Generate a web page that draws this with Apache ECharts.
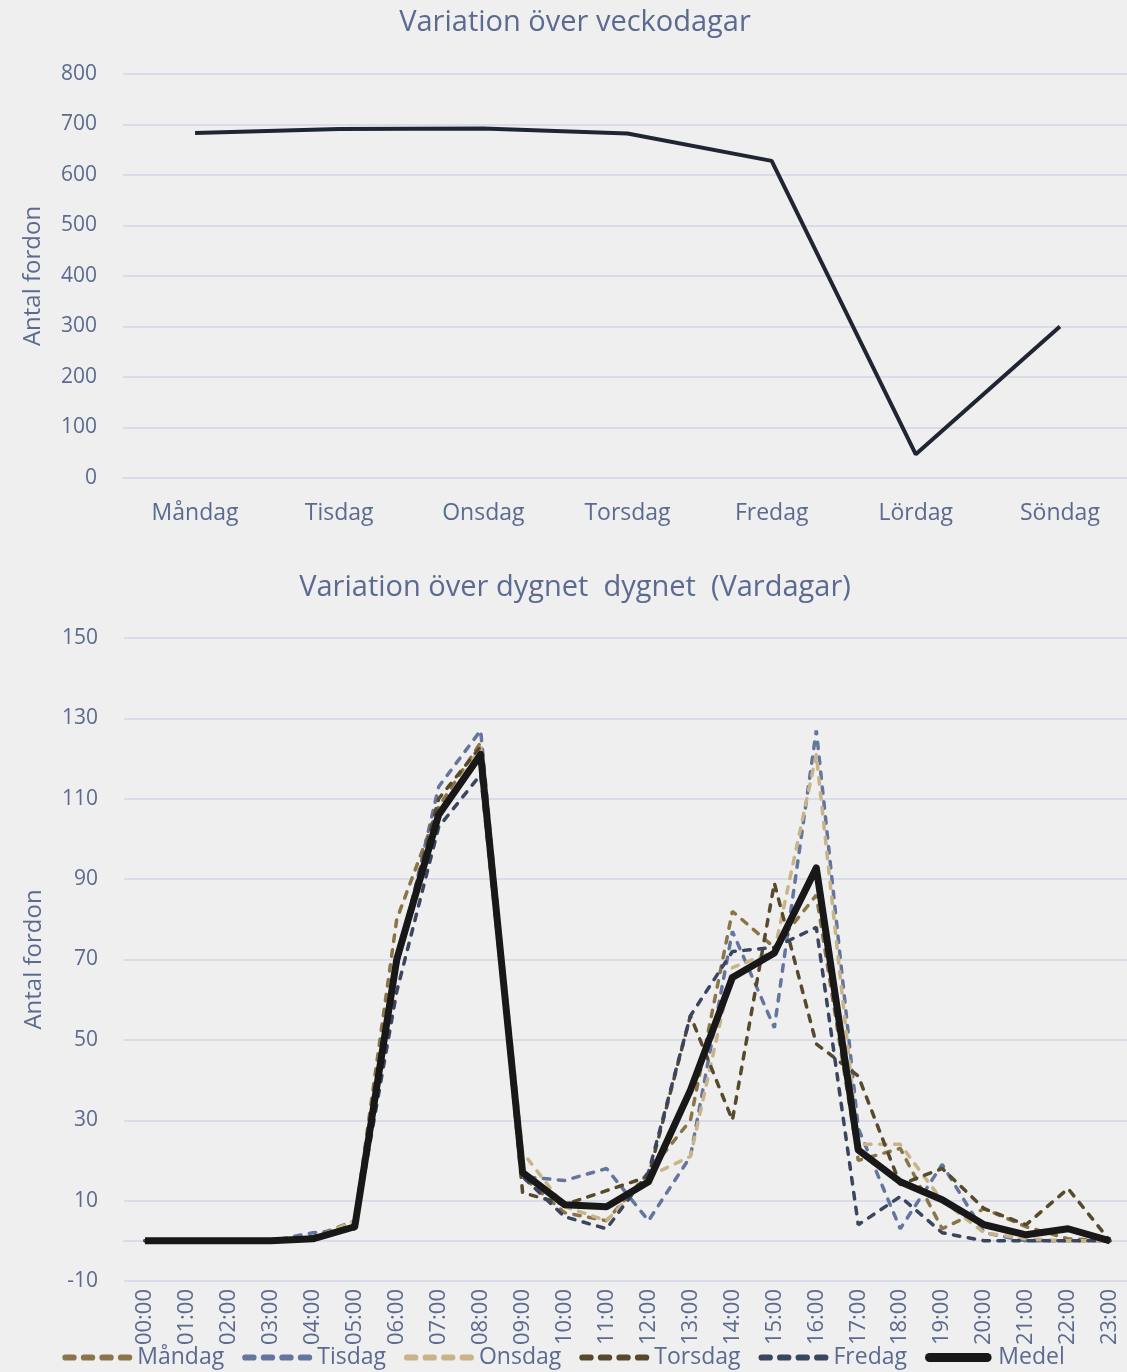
<!DOCTYPE html>
<html>
<head>
<meta charset="utf-8">
<script src="https://cdn.jsdelivr.net/npm/echarts@6/dist/echarts.min.js"></script>
<style>
html,body{margin:0;padding:0;background:#efefef;}
#c{width:1127px;height:1372px;}
</style>
</head>
<body>
<div id="c"></div>
<script>
// ---- Data: weekdays ----
const weekdays = ['Måndag','Tisdag','Onsdag','Torsdag','Fredag','Lördag','Söndag'];
const weekValues = [683, 691, 692, 682, 628, 47, 300];

// ---- Data: hours ----
const hours = ['00:00','01:00','02:00','03:00','04:00','05:00','06:00','07:00','08:00','09:00','10:00','11:00',
               '12:00','13:00','14:00','15:00','16:00','17:00','18:00','19:00','20:00','21:00','22:00','23:00'];
const mandag  = [0,0,0,0,1,5,80,108,124,16,7,5,17,30,82,73,86,20,23,3,8,3.5,0.5,0];
const tisdag  = [0,0,0,0,2,3,68,113,127,16,15,18,5,21,77,53,127,28,3,19,2,0,0,0];
const onsdag  = [0,0,0,0,0.5,5,70,105,123,22,8.5,5,16,21,68,72,121,24,24,10,2,0.5,0,0];
const torsdag = [0,0,0,0,0.5,4,70,110,123,12,9,12.5,16,56,30,89,49,41,14,18,8,4,13,0];
const fredag  = [0,0,0,0,1,3,62,103,116,16,6,3,17,56,72,73,78,4,11,2,0,0,0,0];
const medel   = [0,0,0,0,0.5,3.5,70,106,121,17,9,8.5,14.7,37.5,65.5,71.6,92.8,22.6,14.7,10.2,4,1.5,3,0];

const yTicksTop = {min:0, max:800, interval:100};
const yTicksBottom = {min:-10, max:150, interval:20};

const txt = '#5b6a90';
const grid = '#d9dce8';
const FONT = 'Open Sans';

const dashStyle = (color) => ({color: color, width: 3.5, type: [6.5, 8.5], cap: 'round'});

const colors = {
  'Måndag':'#8b7548', 'Tisdag':'#6475a0', 'Onsdag':'#c8b488',
  'Torsdag':'#574a2c', 'Fredag':'#3a4560', 'Medel':'#181818'
};
const hourSeries = [
  ['Måndag', mandag], ['Tisdag', tisdag], ['Onsdag', onsdag],
  ['Torsdag', torsdag], ['Fredag', fredag]
];

const DASH_ICON = 'path://M2,0h8a2,2 0 0 1 0,6h-8a2,2 0 0 1 0,-6z M20,0h8a2,2 0 0 1 0,6h-8a2,2 0 0 1 0,-6z M38,0h8a2,2 0 0 1 0,6h-8a2,2 0 0 1 0,-6z M56,0h8a2,2 0 0 1 0,6h-8a2,2 0 0 1 0,-6z';
const SOLID_ICON = 'path://M5,0h64a5,5 0 0 1 0,10h-64a5,5 0 0 1 0,-10z';

const chart = echarts.init(document.getElementById('c'), null, {renderer:'canvas'});

const series = [{
  type:'line', xAxisIndex:0, yAxisIndex:0, data: weekValues,
  symbol:'none', lineStyle:{color:'#1f2533', width:4}, itemStyle:{color:'#1f2533'}
}];
hourSeries.forEach(([name, vals]) => {
  series.push({
    name: name, type:'line', xAxisIndex:1, yAxisIndex:1, data: vals,
    symbol:'none', lineStyle: dashStyle(colors[name]), itemStyle:{color: colors[name]}
  });
});
series.push({
  name:'Medel', type:'line', xAxisIndex:1, yAxisIndex:1, data: medel, z: 5,
  symbol:'none', lineStyle:{color: colors['Medel'], width:7, join:'round'}, itemStyle:{color: colors['Medel']}
});

const legendData = ['Måndag','Tisdag','Onsdag','Torsdag','Fredag'].map(n => ({name:n, icon: DASH_ICON, itemStyle:{color: colors[n]}}));
legendData.push({name:'Medel', icon: SOLID_ICON, itemStyle:{color: colors['Medel']}});

chart.setOption({
  backgroundColor:'#efefef',
  animation:false,
  textStyle:{fontFamily: FONT},
  title:[
    {text:'Variation över veckodagar', left:570, top:3, textAlign:'center',
     textStyle:{color:txt, fontSize:29, fontWeight:'normal', fontFamily:FONT}},
    {text:'Variation över dygnet  dygnet  (Vardagar)', left:570, top:568, textAlign:'center',
     textStyle:{color:txt, fontSize:29, fontWeight:'normal', fontFamily:FONT}}
  ],
  grid:[
    {left:123, top:74, width:1009, height:404, outerBoundsMode:'none', containLabel:false},
    {left:124, top:638, width:1007, height:643, outerBoundsMode:'none', containLabel:false}
  ],
  xAxis:[
    {gridIndex:0, type:'category', data: weekdays, boundaryGap:true,
     axisLine:{show:true, lineStyle:{color:grid, width:2}}, axisTick:{show:false},
     axisLabel:{color:txt, fontSize:23, margin:24, fontFamily:FONT}},
    {gridIndex:1, type:'category', data: hours, boundaryGap:true,
     axisLine:{show:true, onZero:true, lineStyle:{color:grid, width:2}}, axisTick:{show:false},
     axisLabel:{color:txt, fontSize:22, rotate:90, interval:0, margin:8, fontFamily:FONT}}
  ],
  yAxis:[
    {gridIndex:0, type:'value', min:yTicksTop.min, max:yTicksTop.max, interval:yTicksTop.interval,
     name:'Antal fordon', nameLocation:'middle', nameGap:78, nameRotate:90,
     nameTextStyle:{color:txt, fontSize:24, fontFamily:FONT},
     axisLine:{show:false}, axisTick:{show:false},
     axisLabel:{color:txt, fontSize:21, margin:26, fontFamily:FONT},
     splitLine:{show:true, lineStyle:{color:grid, width:2}}},
    {gridIndex:1, type:'value', min:yTicksBottom.min, max:yTicksBottom.max, interval:yTicksBottom.interval,
     name:'Antal fordon', nameLocation:'middle', nameGap:78, nameRotate:90,
     nameTextStyle:{color:txt, fontSize:24, fontFamily:FONT},
     axisLine:{show:false}, axisTick:{show:false},
     axisLabel:{color:txt, fontSize:21, margin:26, fontFamily:FONT},
     splitLine:{show:true, lineStyle:{color:grid, width:2}}}
  ],
  legend:{
    bottom:-2, left:'center', itemWidth:70, itemHeight:9, itemGap:18,
    data: legendData,
    textStyle:{color:txt, fontSize:23, fontFamily:FONT}
  },
  series: series
});
</script>
</body>
</html>
